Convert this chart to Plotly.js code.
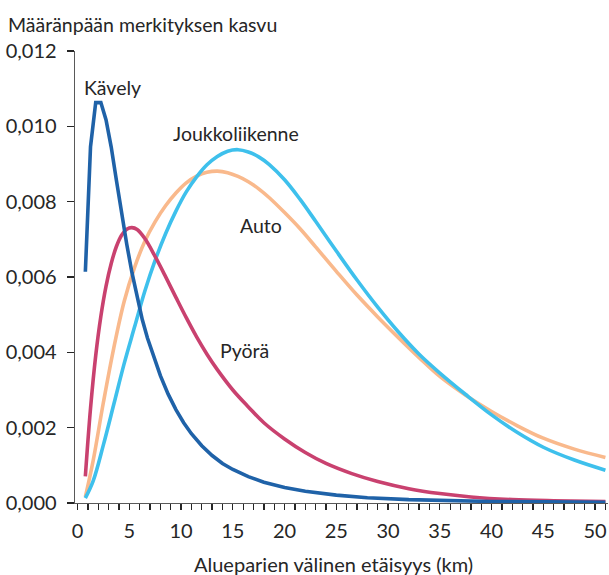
<!DOCTYPE html>
<html>
<head>
<meta charset="utf-8">
<script src="https://cdn.plot.ly/plotly-3.0.1.min.js"></script>
<style>html,body{margin:0;padding:0;background:#fff;}#chart{width:609px;height:575px;}</style>
</head>
<body>
<div id="chart"></div>
<script>
// Distance (km) and values
const kavelyX = [0.75,1.25,1.75,2.25,2.75,3.25,3.75,4.25,4.75,5.25,5.75,6.25,6.75,7.25,8,8.75,9.5,10.25,11,12,13,14,15,16.5,18,20,22,25,28,32,36,40,45,51];
const kavelyY = [0.00614,0.00946,0.01063,0.01063,0.01017,0.00945,0.00857,0.00769,0.00687,0.00612,0.00545,0.00487,0.00438,0.00397,0.00338,0.00289,0.00248,0.00213,0.00184,0.00152,0.00126,0.00105,0.00089,0.00070,0.00055,0.00041,0.00031,0.00021,0.00014,0.00009,0.00006,0.00004,0.00003,0.00002];

const pyoraX = [0.75,1.25,1.75,2.25,2.75,3.25,3.75,4.25,4.75,5.25,5.75,6.5,7.5,8.5,9.5,10.5,11.5,12.5,13.5,15,16.5,18,20,22,24,26.5,29,32,35,38,42,46,51];
const pyoraY = [0.00071,0.00251,0.00391,0.00496,0.00576,0.00636,0.00681,0.00711,0.00727,0.00731,0.00726,0.00702,0.00654,0.00601,0.00546,0.00492,0.00441,0.00395,0.00354,0.00300,0.00255,0.00213,0.00170,0.00134,0.00105,0.00078,0.00057,0.00038,0.00025,0.00016,0.00009,0.00006,0.00004];

const autoX = [0.75,1.5,2.5,3.5,4.5,5.5,6.5,7.5,8.5,9.5,10.5,11.5,12.5,13.5,14.5,15.5,16.5,17.5,18.5,20,21.5,23,25,27,29,31,33,35,37.5,40,42.5,45,48,51];
const autoY = [0.00016,0.00112,0.00268,0.00412,0.00535,0.00625,0.00695,0.00747,0.00789,0.00823,0.00850,0.00868,0.00878,0.00881,0.00877,0.00867,0.00853,0.00834,0.00811,0.00771,0.00728,0.00680,0.00615,0.00552,0.00494,0.00439,0.00386,0.00336,0.00286,0.00243,0.00205,0.00172,0.00143,0.00121];

const joukkoX = [0.75,1.5,2.5,3.5,4.5,5.5,6.5,7.5,8.5,9.5,10.5,11.5,12.5,13.5,14.5,15.5,16.5,17.5,18.5,20,21.5,23,25,27,29,31,33,35,37.5,40,42.5,45,48,51];
const joukkoY = [0.00013,0.00058,0.00155,0.00262,0.00370,0.00467,0.00563,0.00645,0.00715,0.00775,0.00826,0.00866,0.00898,0.00920,0.00934,0.00938,0.00932,0.00919,0.00899,0.00858,0.00806,0.00748,0.00669,0.00592,0.00520,0.00454,0.00395,0.00345,0.00288,0.00234,0.00187,0.00148,0.00114,0.00087];

const seriesNames = ["Kävely", "Pyörä", "Auto", "Joukkoliikenne"];
const yTickVals = [0, 0.002, 0.004, 0.006, 0.008, 0.010, 0.012];
const xTickVals = [0,5,10,15,20,25,30,35,40,45,50];

const colors = ["#1f62a8", "#c9416f", "#f9b98c", "#3ec0ec"];
const FONT = "Lato, 'Open Sans', sans-serif";
const TXT = "#262626";

function tr(x, y, i, shape) {
  return {x: x, y: y, type: "scatter", mode: "lines", name: seriesNames[i],
    line: {color: colors[i], width: 3.6, shape: shape, smoothing: 1},
    hoverinfo: "skip", cliponaxis: false};
}

const data = [
  tr(autoX, autoY, 2, "spline"),
  tr(joukkoX, joukkoY, 3, "spline"),
  tr(pyoraX, pyoraY, 1, "spline"),
  tr(kavelyX, kavelyY, 0, "linear")
];

const layout = {
  width: 609, height: 575,
  margin: {l: 75, r: 1, t: 51, b: 72},
  paper_bgcolor: "#fff", plot_bgcolor: "#fff",
  separators: ", ",
  showlegend: false,
  font: {family: FONT, size: 19.5, color: TXT},
  xaxis: {
    range: [-0.25, 51.25], showgrid: false, zeroline: false,
    showline: true, linecolor: "#595959", linewidth: 1.3,
    tickmode: "array", tickvals: xTickVals,
    ticks: "outside", ticklen: 6, tickwidth: 1.3, tickcolor: "#262626",
    minor: {dtick: 1, tick0: 0, ticks: "outside", ticklen: 6, tickwidth: 1.3, tickcolor: "#262626"},
    tickfont: {family: FONT, size: 20, color: TXT},
    ticklabelstandoff: 4,
    fixedrange: true
  },
  yaxis: {
    range: [0, 0.012], showgrid: false, zeroline: false,
    showline: true, linecolor: "#595959", linewidth: 1.3,
    tickmode: "array", tickvals: yTickVals, tickformat: ".3f",
    ticks: "outside", ticklen: 7, tickwidth: 1.3, tickcolor: "#262626",
    tickfont: {family: FONT, size: 20, color: TXT},
    ticklabelstandoff: 6,
    fixedrange: true
  },
  annotations: [
    {xref: "paper", yref: "paper", x: 0, y: 1, xshift: -69, yshift: 27, xanchor: "left", yanchor: "middle",
     text: "Määränpään merkityksen kasvu", showarrow: false, font: {family: FONT, size: 19.5, color: TXT}},
    {xref: "paper", yref: "paper", x: 0.5, y: 0, xshift: -8, yshift: -61, xanchor: "center", yanchor: "middle",
     text: "Alueparien välinen etäisyys (km)", showarrow: false, font: {family: FONT, size: 20, color: TXT}},
    {x: 3.4, y: 0.01103, text: seriesNames[0], showarrow: false, xanchor: "center", yanchor: "middle"},
    {x: 16.1, y: 0.00406, text: seriesNames[1], showarrow: false, xanchor: "center", yanchor: "middle"},
    {x: 17.7, y: 0.00737, text: seriesNames[2], showarrow: false, xanchor: "center", yanchor: "middle"},
    {x: 15.3, y: 0.00981, text: seriesNames[3], showarrow: false, xanchor: "center", yanchor: "middle"}
  ]
};

Plotly.newPlot("chart", data, layout, {displayModeBar: false, staticPlot: true});
</script>
</body>
</html>
